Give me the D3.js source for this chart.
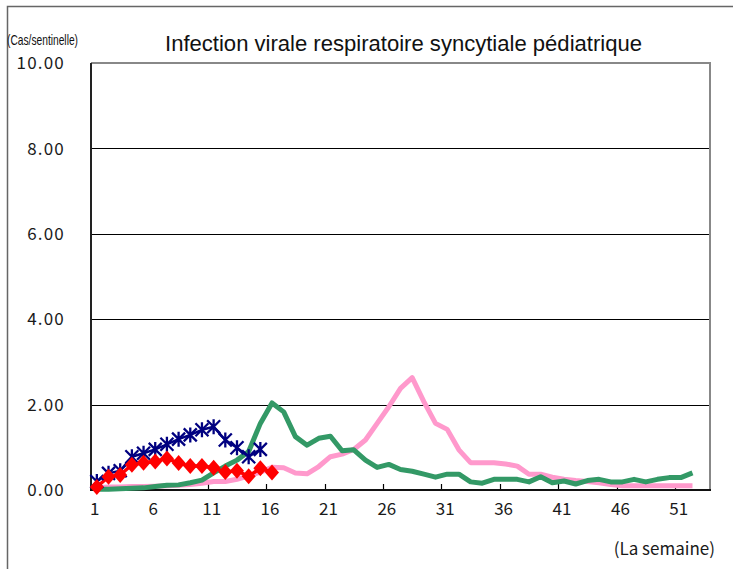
<!DOCTYPE html>
<html>
<head>
<meta charset="utf-8">
<script src="https://cdn.jsdelivr.net/npm/d3@7"></script>
<style>
  body { margin: 0; background: #fff; }
  .ticktext { font-family: "Noto Sans CJK JP", "DejaVu Sans", sans-serif; font-size: 17px; font-weight: 400; fill: #1a1a1a; }
</style>
</head>
<body>
<div id="chart"></div>
<script>
// weeks on the x axis (categories)
let weeks = d3.range(1, 54);
let xTickWeeks = [1, 6, 11, 16, 21, 26, 31, 36, 41, 46, 51];
let yTicks = [0, 2, 4, 6, 8, 10];

// series values, cases per sentinel, starting at week 1
let pinkValues = [0.05, 0.07, 0.07, 0.08, 0.08, 0.09, 0.1, 0.11, 0.13, 0.16,
  0.2, 0.2, 0.25, 0.33, 0.42, 0.53, 0.52, 0.4, 0.38, 0.55,
  0.78, 0.84, 0.95, 1.17, 1.56, 1.95, 2.38, 2.63, 2.07, 1.56,
  1.42, 0.94, 0.64, 0.64, 0.64, 0.61, 0.56, 0.37, 0.37, 0.3,
  0.25, 0.22, 0.2, 0.17, 0.13, 0.1, 0.1, 0.1, 0.1, 0.1,
  0.1, 0.1];
let greenValues = [0.02, 0.02, 0.03, 0.04, 0.05, 0.08, 0.11, 0.12, 0.17, 0.23,
  0.4, 0.56, 0.7, 0.9, 1.56, 2.04, 1.83, 1.25, 1.05, 1.21,
  1.26, 0.92, 0.94, 0.7, 0.53, 0.6, 0.48, 0.44, 0.37, 0.3,
  0.37, 0.37, 0.19, 0.16, 0.25, 0.25, 0.25, 0.19, 0.31, 0.17,
  0.21, 0.14, 0.22, 0.25, 0.19, 0.19, 0.25, 0.19, 0.25, 0.29,
  0.29, 0.4];
let blueValues = [0.2, 0.39, 0.45, 0.78, 0.86, 0.95, 1.07, 1.19, 1.29, 1.41,
  1.48, 1.17, 0.99, 0.78, 0.95];
let redValues = [0.07, 0.31, 0.35, 0.59, 0.64, 0.67, 0.74, 0.63, 0.56, 0.56,
  0.52, 0.42, 0.45, 0.32, 0.51, 0.41];

let width = 733, height = 569;
let plot = {left: 91, right: 710, top: 63, bottom: 490};

let svg = d3.select("#chart").append("svg")
  .attr("width", width)
  .attr("height", height);

let x = d3.scaleBand()
  .domain(weeks)
  .range([plot.left, plot.right])
  .padding(0);
let y = d3.scaleLinear()
  .domain([0, 10])
  .range([plot.bottom, plot.top]);
let cx = w => x(w) + x.bandwidth() / 2;

// outer frame
svg.append("path")
  .attr("d", `M7.5,${height} V6.5 H${width}`)
  .attr("fill", "none")
  .attr("stroke", "#666")
  .attr("stroke-width", 1.5);

// title and unit labels
svg.append("text")
  .attr("x", 165)
  .attr("y", 51)
  .attr("textLength", 477)
  .attr("lengthAdjust", "spacingAndGlyphs")
  .style("font-family", "'Liberation Sans', Arial, sans-serif")
  .style("font-size", "22px")
  .style("fill", "#111")
  .text("Infection virale respiratoire syncytiale pédiatrique");

svg.append("text")
  .attr("x", 7)
  .attr("y", 45)
  .attr("textLength", 71)
  .attr("lengthAdjust", "spacingAndGlyphs")
  .style("font-family", "'Liberation Sans', Arial, sans-serif")
  .style("font-size", "15px")
  .style("fill", "#111")
  .text("(Cas/sentinelle)");

svg.append("text")
  .attr("x", 715)
  .attr("y", 555)
  .attr("text-anchor", "end")
  .classed("ticktext", true)
  .text("(La semaine)");

//--------------------------------------------------
// gridlines and plot borders
//--------------------------------------------------
svg.selectAll(".grid")
  .data(yTicks.filter(d => d > 0 && d < 10))
  .enter()
  .append("line")
  .attr("x1", plot.left)
  .attr("x2", plot.right)
  .attr("y1", d => Math.round(y(d)) + 0.5)
  .attr("y2", d => Math.round(y(d)) + 0.5)
  .attr("stroke", "#000")
  .attr("stroke-width", 1);

svg.append("path")
  .attr("d", `M${plot.left},${plot.top} H${plot.right} V${plot.bottom}`)
  .attr("fill", "none")
  .attr("stroke", "#888")
  .attr("stroke-width", 2);

svg.selectAll(".ylabel")
  .data(yTicks)
  .enter()
  .append("text")
  .attr("x", 65)
  .attr("y", d => y(d))
  .attr("dy", "0.36em")
  .attr("text-anchor", "end")
  .style("letter-spacing", "1.2px")
  .classed("ticktext", true)
  .text(d => d.toFixed(2));

// x axis with ticks pointing up into the plot
let xAxis = d3.axisBottom(x)
  .tickValues(xTickWeeks)
  .tickSize(0)
  .tickFormat(d => d);
let gx = svg.append("g")
  .attr("transform", `translate(0,${plot.bottom})`)
  .call(xAxis);
gx.select(".domain").remove();
gx.selectAll("text")
  .attr("y", 25)
  .attr("dy", 0)
  .attr("x", -2)
  .attr("class", "ticktext")
  .style("font-size", null)
  .style("font-family", null);

svg.selectAll(".xtick")
  .data(xTickWeeks)
  .enter()
  .append("line")
  .attr("x1", d => Math.round(x(d)) + 0.5)
  .attr("x2", d => Math.round(x(d)) + 0.5)
  .attr("y1", plot.bottom - 6)
  .attr("y2", plot.bottom)
  .attr("stroke", "#000")
  .attr("stroke-width", 1.2);

svg.append("line")
  .attr("x1", plot.left)
  .attr("x2", plot.left)
  .attr("y1", plot.top)
  .attr("y2", plot.bottom)
  .attr("stroke", "#222")
  .attr("stroke-width", 2);
svg.append("line")
  .attr("x1", plot.left - 1)
  .attr("x2", plot.right + 1)
  .attr("y1", plot.bottom)
  .attr("y2", plot.bottom)
  .attr("stroke", "#111")
  .attr("stroke-width", 2);

//--------------------------------------------------
// series lines
//--------------------------------------------------
let line = d3.line()
  .x((d, i) => cx(weeks[i]))
  .y(d => y(d));

let series = [
  {values: pinkValues, color: "#ff99cc", width: 5},
  {values: greenValues, color: "#339966", width: 5},
  {values: blueValues, color: "#000080", width: 2.5},
  {values: redValues, color: "#ff0000", width: 3.5}
];

svg.selectAll(".series")
  .data(series)
  .enter()
  .append("path")
  .attr("d", d => line(d.values))
  .attr("fill", "none")
  .attr("stroke", d => d.color)
  .attr("stroke-width", d => d.width)
  .attr("stroke-linejoin", "round");

// asterisk markers
let star = "M-6.5,-6.5L6.5,6.5M-6.5,6.5L6.5,-6.5M0,-7.5V7.5";
svg.selectAll(".star")
  .data(blueValues)
  .enter()
  .append("path")
  .attr("transform", (d, i) => `translate(${cx(weeks[i])},${y(d)})`)
  .attr("d", star)
  .attr("fill", "none")
  .attr("stroke", "#000080")
  .attr("stroke-width", 2.3);

// diamond markers
svg.selectAll(".diamond")
  .data(redValues)
  .enter()
  .append("path")
  .attr("transform", (d, i) => `translate(${cx(weeks[i])},${y(d)})`)
  .attr("d", "M0,-8L7,0L0,8L-7,0Z")
  .attr("fill", "#ff0000");
</script>
</body>
</html>
